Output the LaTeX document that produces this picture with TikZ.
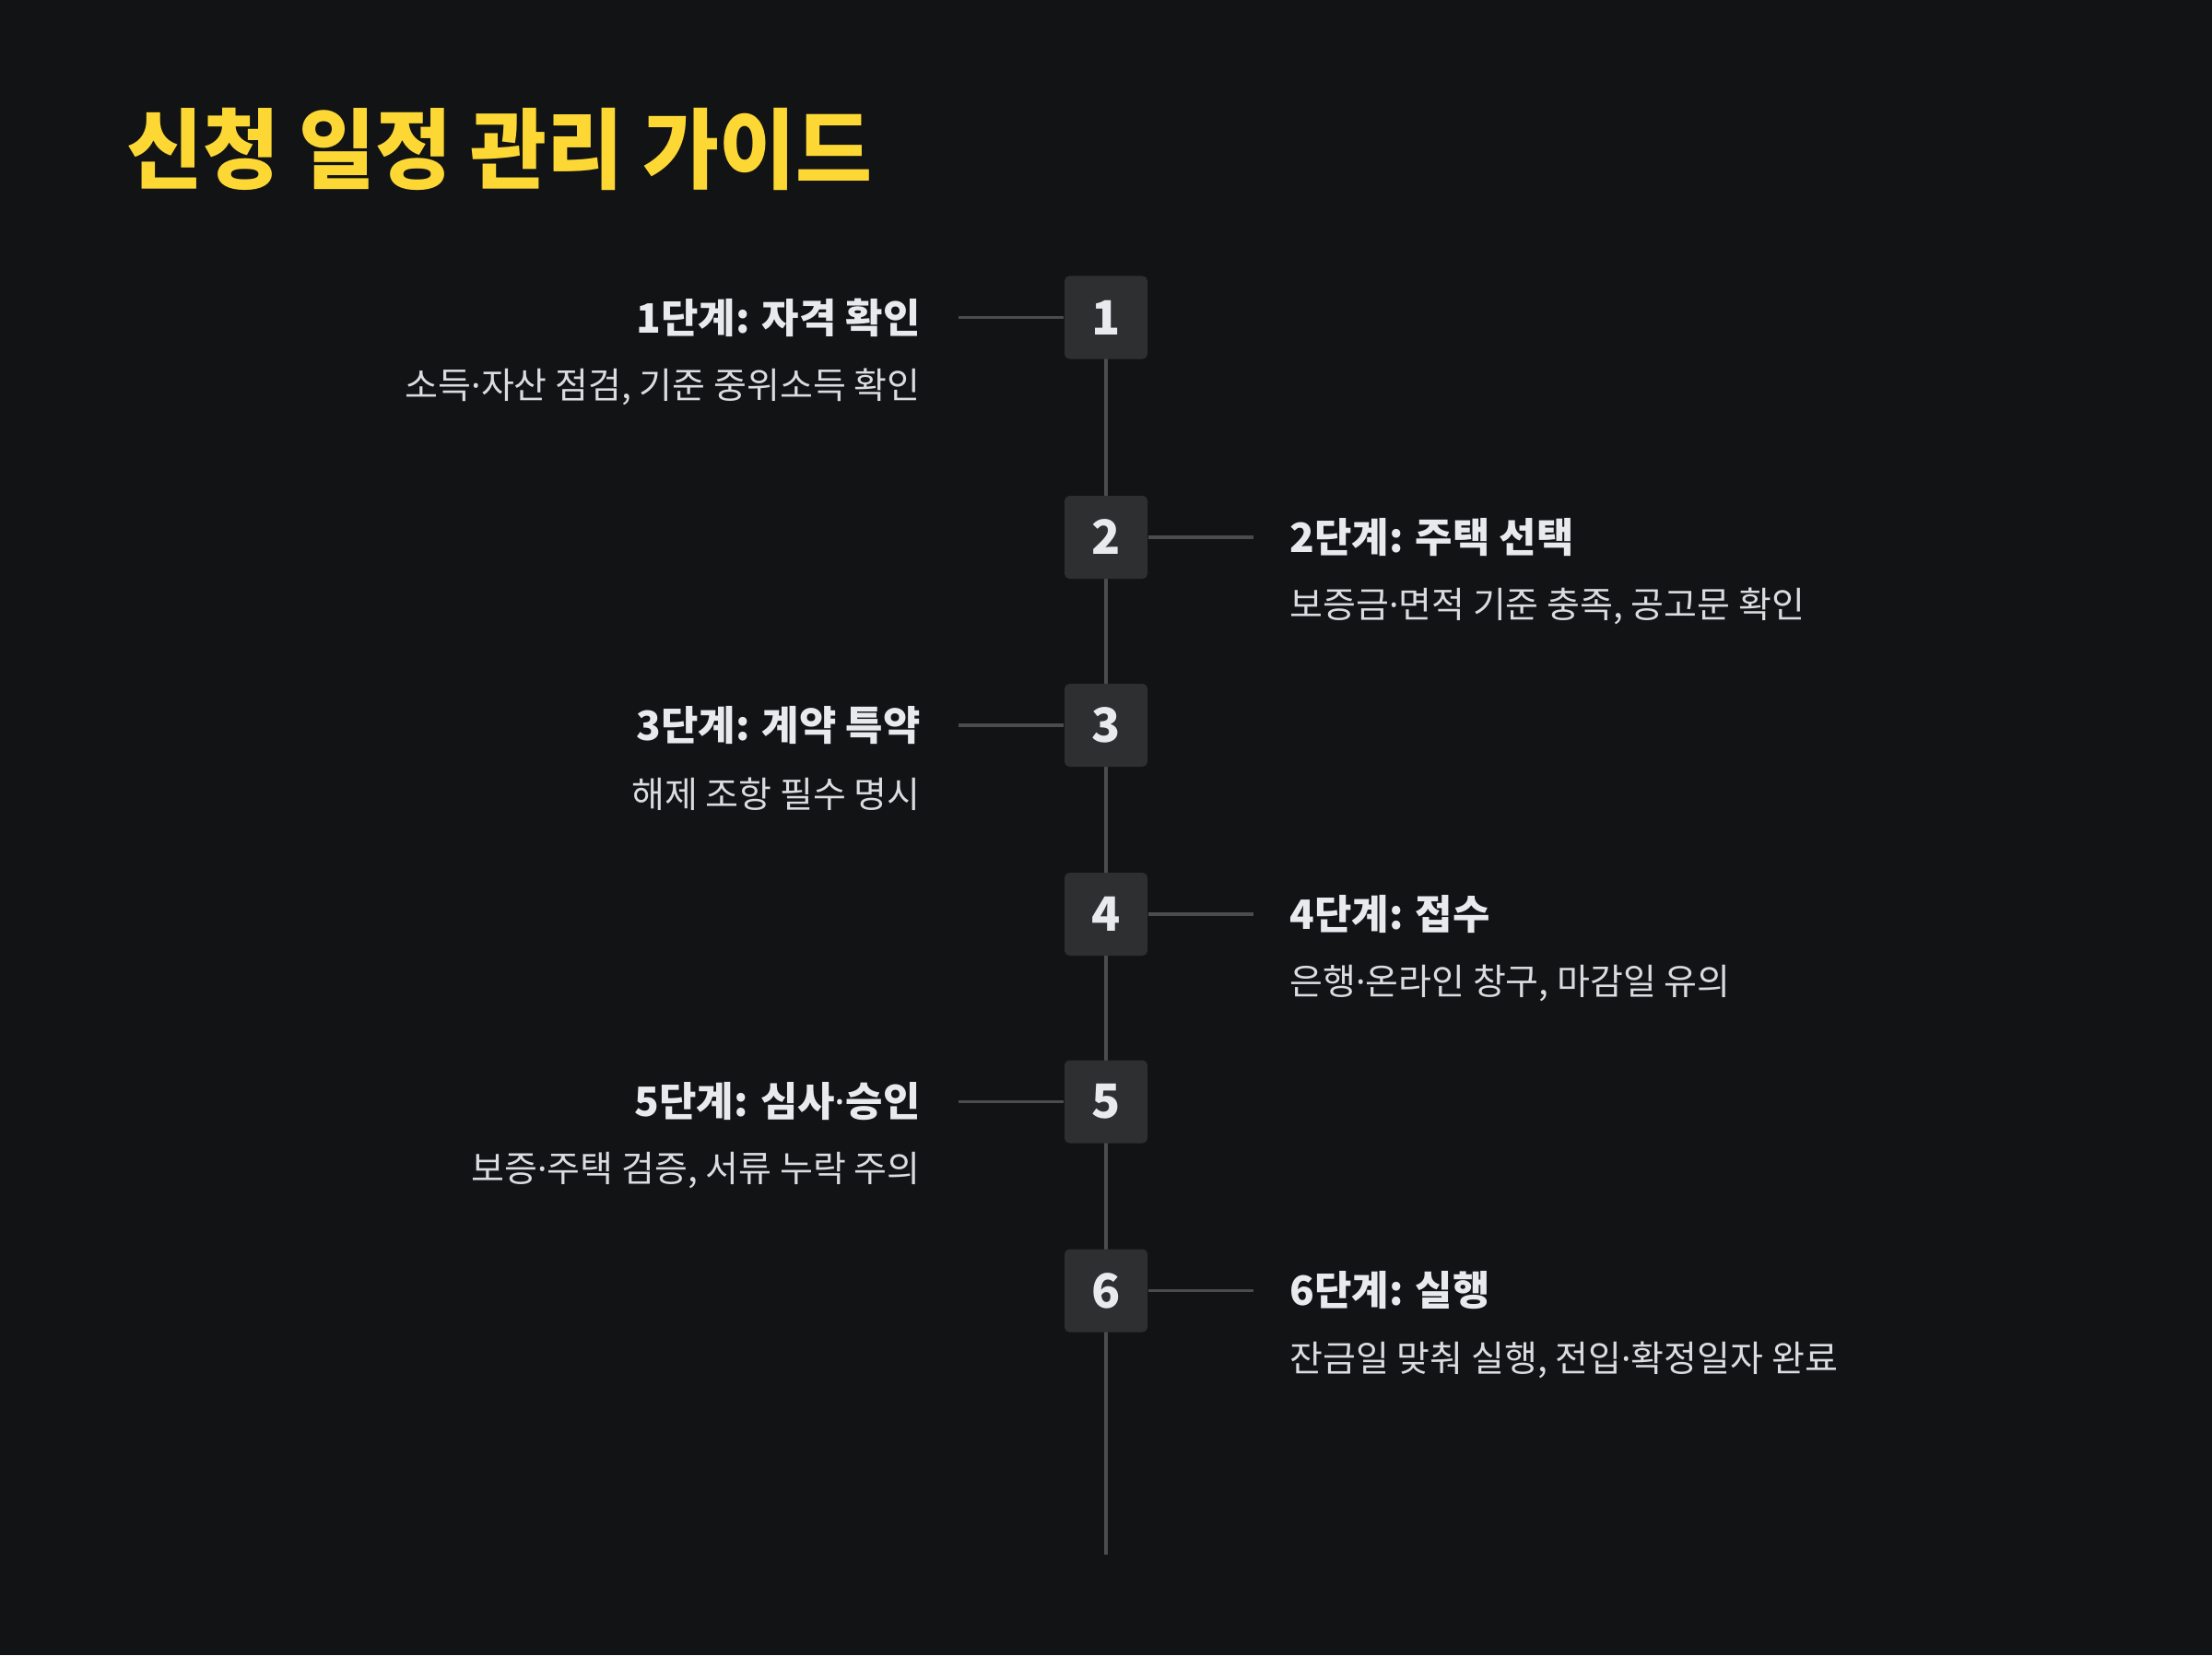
\documentclass[tikz,border=0pt]{standalone}
\usepackage{fontspec}
\setmainfont{Noto Sans CJK KR}
\newfontfamily\headfont{Noto Sans CJK KR}[FakeStretch=0.95]
\newfontfamily\dotfont{Noto Sans}
\newcommand{\kdot}{{\dotfont ·}}
\usepackage{tikz}
\usetikzlibrary{positioning, backgrounds}
\definecolor{pagedark}{RGB}{17,19,21}
\definecolor{boxgray}{RGB}{46,47,49}
\definecolor{linegray}{RGB}{75,76,78}
\definecolor{titleyellow}{RGB}{253,216,53}
\definecolor{textwhite}{RGB}{232,234,237}
\definecolor{descgray}{RGB}{218,220,224}

\begin{document}
\begin{tikzpicture}[
    stepbox/.style={rectangle, rounded corners=1.5pt, fill=boxgray, minimum size=0.9cm, inner sep=0pt, text=textwhite, font=\fontsize{14.6}{14.6}\selectfont\bfseries},
    steptitle/.style={inner sep=0pt, text=textwhite, font=\fontsize{12.5}{12.5}\selectfont\bfseries},
    stepdesc/.style={inner sep=0pt, text=descgray, font=\fontsize{11.1}{11.1}\selectfont},
    conn/.style={linegray, line width=0.9pt},
    spine/.style={linegray, line width=1.1pt}]
  \node[anchor=west, inner sep=0pt, text=titleyellow, font=\headfont\fontsize{27}{27}\selectfont\bfseries] (title) at (1.37,-1.615) {신청 일정 관리 가이드};

  % step boxes on the timeline
  \node[stepbox] (s1) at (12,-3.445) {1};
  \node[stepbox] (s2) at (12,-5.83)  {2};
  \node[stepbox] (s3) at (12,-7.87)  {3};
  \node[stepbox] (s4) at (12,-9.92)  {4};
  \node[stepbox] (s5) at (12,-11.955) {5};
  \node[stepbox] (s6) at (12,-14.005) {6};
  \coordinate (tail) at (12,-16.87);

  % left side: 1, 3, 5
  \node[steptitle, left=1.55cm of s1] (t1) {1단계: 자격 확인};
  \node[stepdesc, below=0.75cm of t1.east, anchor=east] (d1) {소득\kdot 자산 점검, 기준 중위소득 확인};
  \node[steptitle, left=1.55cm of s3] (t3) {3단계: 계약 특약};
  \node[stepdesc, below=0.75cm of t3.east, anchor=east] (d3) {해제 조항 필수 명시};
  \node[steptitle, left=1.55cm of s5] (t5) {5단계: 심사\kdot 승인};
  \node[stepdesc, below=0.75cm of t5.east, anchor=east] (d5) {보증\kdot 주택 검증, 서류 누락 주의};

  % right side: 2, 4, 6
  \node[steptitle, right=1.53cm of s2] (t2) {2단계: 주택 선택};
  \node[stepdesc, below=0.75cm of t2.west, anchor=west] (d2) {보증금\kdot 면적 기준 충족, 공고문 확인};
  \node[steptitle, right=1.53cm of s4] (t4) {4단계: 접수};
  \node[stepdesc, below=0.75cm of t4.west, anchor=west] (d4) {은행\kdot 온라인 창구, 마감일 유의};
  \node[steptitle, right=1.53cm of s6] (t6) {6단계: 실행};
  \node[stepdesc, below=0.75cm of t6.west, anchor=west] (d6) {잔금일 맞춰 실행, 전입\kdot 확정일자 완료};

  \draw[conn, shorten <=4.1mm] (t1) -- (s1);
  \draw[conn, shorten <=4.1mm] (t3) -- (s3);
  \draw[conn, shorten <=4.1mm] (t5) -- (s5);
  \draw[conn, shorten >=3.9mm] (s2) -- (t2);
  \draw[conn, shorten >=3.9mm] (s4) -- (t4);
  \draw[conn, shorten >=3.9mm] (s6) -- (t6);

  \begin{pgfonlayer}{background}
    \fill[pagedark] (0,0) rectangle (24,-17.96);
    \draw[spine] (s1.center) -- (tail);
  \end{pgfonlayer}
\end{tikzpicture}
\end{document}
